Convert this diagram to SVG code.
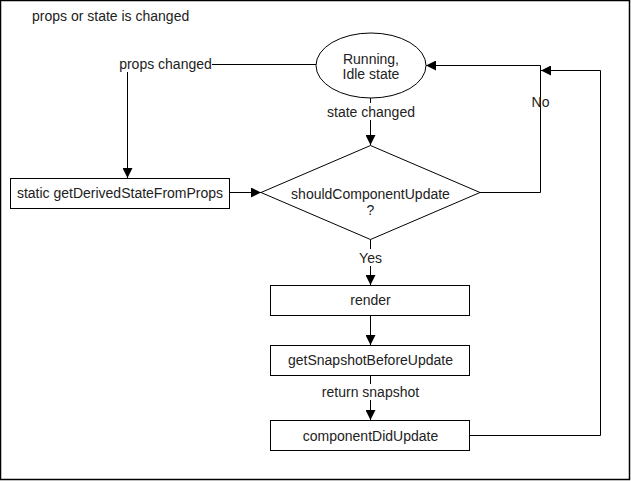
<svg xmlns="http://www.w3.org/2000/svg" width="631" height="481" viewBox="0 0 631 481">
<style>
text{font-family:"Liberation Sans",Arial,sans-serif;font-size:14px;fill:#222;}
.c{text-anchor:middle;}
.n{fill:#fff;stroke:#000;stroke-width:1;}
.e{fill:none;stroke:#000;stroke-width:1;}
</style>
<defs>
<marker id="a" viewBox="0 0 10 10" refX="10" refY="5" markerWidth="10" markerHeight="10" markerUnits="userSpaceOnUse" orient="auto">
<path d="M0,0 L10,5 L0,10 Z" fill="#000"/>
</marker>
</defs>
<rect x="0.5" y="0.5" width="629" height="479" fill="#fff" stroke="#000" stroke-width="1.5"/>
<text x="32" y="21">props or state is changed</text>
<g id="connectors">
<path class="e" d="M316,64.5 H212"/>
<path class="e" d="M127.5,72 V178" marker-end="url(#a)"/>
<path class="e" d="M230,192.5 H261" marker-end="url(#a)"/>
<path class="e" d="M370.5,98 V103"/>
<path class="e" d="M370.5,120 V145" marker-end="url(#a)"/>
<path class="e" d="M480,192.5 H540.5 V65.5 H426" marker-end="url(#a)"/>
<path class="e" d="M370.5,239 V249"/>
<path class="e" d="M370.5,266 V285" marker-end="url(#a)"/>
<path class="e" d="M370.5,315 V345" marker-end="url(#a)"/>
<path class="e" d="M370.5,375 V384"/>
<path class="e" d="M370.5,400 V420" marker-end="url(#a)"/>
<path class="e" d="M470,435.5 H600.5 V70.5 H541" marker-end="url(#a)"/>
<text x="165.5" y="69" class="c">props changed</text>
<text x="371" y="117" class="c">state changed</text>
<text x="540.5" y="107" class="c">No</text>
<text x="370.5" y="263" class="c">Yes</text>
<text x="370.5" y="397" class="c">return snapshot</text>
</g>
<g id="idle">
<ellipse class="n" cx="371" cy="65.5" rx="55" ry="32.5"/>
<text x="371" y="63.5" class="c">Running,</text>
<text x="371" y="79" class="c">Idle state</text>
</g>
<g id="gdsfp">
<rect class="n" x="10.5" y="178.5" width="219" height="30"/>
<text x="120" y="198" class="c">static getDerivedStateFromProps</text>
</g>
<g id="scu">
<path class="n" d="M370.5,145.5 L480,192.5 L370.5,239.5 L261,192.5 Z"/>
<text x="370.5" y="199" class="c">shouldComponentUpdate</text>
<text x="370.5" y="215" class="c">?</text>
</g>
<g id="render">
<rect class="n" x="270.5" y="285.5" width="199" height="30"/>
<text x="370.5" y="305" class="c">render</text>
</g>
<g id="gsbu">
<rect class="n" x="270.5" y="345.5" width="199" height="30"/>
<text x="370.5" y="365" class="c">getSnapshotBeforeUpdate</text>
</g>
<g id="cdu">
<rect class="n" x="270.5" y="420.5" width="199" height="30"/>
<text x="370.5" y="441" class="c">componentDidUpdate</text>
</g>
</svg>
